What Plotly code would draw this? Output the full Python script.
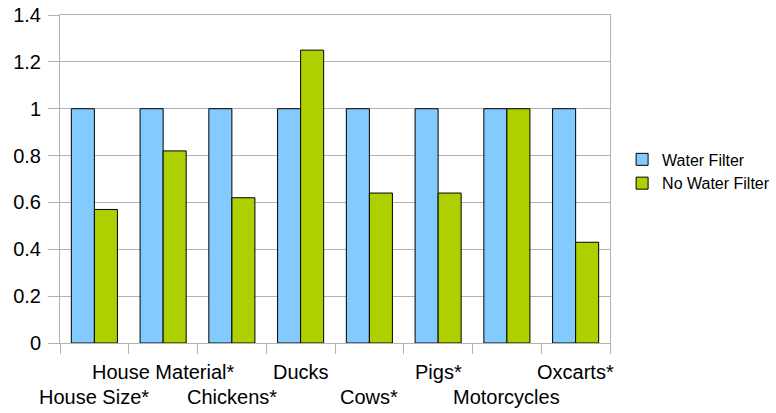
import plotly.graph_objects as go

categories = ["House Size*", "House Material*", "Chickens*", "Ducks", "Cows*", "Pigs*", "Motorcycles", "Oxcarts*"]
water_filter = [1, 1, 1, 1, 1, 1, 1, 1]
no_water_filter = [0.57, 0.82, 0.62, 1.25, 0.64, 0.64, 1.0, 0.43]
y_ticks = [0, 0.2, 0.4, 0.6, 0.8, 1, 1.2, 1.4]
y_tick_labels = ["0", "0.2", "0.4", "0.6", "0.8", "1", "1.2", "1.4"]

FONT = "Liberation Sans, Arial, sans-serif"
GRID = "#b3b3b3"

fig = go.Figure()
fig.add_trace(go.Bar(name="Water Filter", x=categories, y=water_filter,
                     marker=dict(color="#83caff", line=dict(color="#000000", width=1))))
fig.add_trace(go.Bar(name="No Water Filter", x=categories, y=no_water_filter,
                     marker=dict(color="#aecf00", line=dict(color="#000000", width=1))))

# staggered category labels (LibreOffice style), anchored to category positions
annotations = []
for i, c in enumerate(categories):
    annotations.append(dict(
        x=c, xref="x", y=0, yref="paper", yanchor="middle", xanchor="center",
        yshift=-29 if i % 2 == 1 else -54,
        text=c, showarrow=False, font=dict(size=20, family=FONT, color="#000000"),
    ))

fig.update_layout(
    width=776, height=413,
    margin=dict(l=60, r=166, t=15, b=70, autoexpand=False),
    paper_bgcolor="white", plot_bgcolor="white",
    barmode="group", bargap=0.33, bargroupgap=0,
    font=dict(family=FONT, size=20, color="#000000"),
    legend=dict(x=1.022, y=0.523, xanchor="left", yanchor="middle",
                font=dict(size=16), itemwidth=30, tracegroupgap=0,
                bgcolor="rgba(0,0,0,0)"),
    showlegend=True,
    annotations=annotations,
)
fig.update_xaxes(
    type="category", categoryorder="array", categoryarray=categories,
    range=[-0.5, len(categories) - 0.5], autorange=False,
    tickson="boundaries", ticks="outside", ticklen=10, tickcolor=GRID,
    showticklabels=False, automargin=False,
    showgrid=False, showline=True, linecolor=GRID, linewidth=1, mirror=True,
)
fig.update_yaxes(
    range=[0, 1.4], autorange=False, tickmode="array", tickvals=y_ticks, ticktext=y_tick_labels,
    ticks="outside", ticklen=11, tickcolor=GRID, automargin=False,
    showgrid=True, gridcolor=GRID, gridwidth=1, zeroline=False,
    showline=True, linecolor=GRID, linewidth=1, mirror=True,
    ticklabelstandoff=3, ticklabeloverflow="allow", tickfont=dict(size=20),
)

fig.write_html("out.html", config={"displayModeBar": False},
               post_script="document.body.style.margin='0';document.body.style.overflow='hidden';")
